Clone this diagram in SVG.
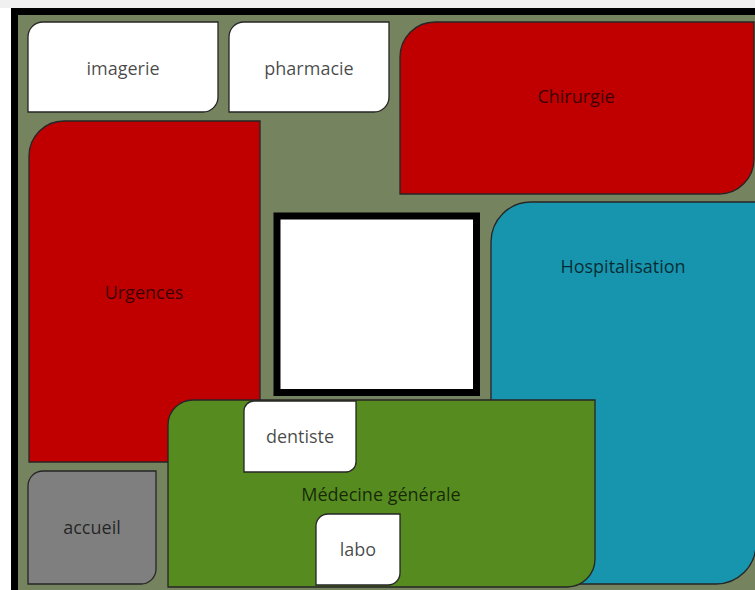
<svg xmlns="http://www.w3.org/2000/svg" width="755" height="590" viewBox="0 0 755 590">
<style>
.box{stroke:#262626;stroke-width:1.3}
.w{fill:#ffffff}
.red{fill:#c00000}
.lbl{font-family:"Open Sans","Liberation Sans",sans-serif;font-size:18px;text-anchor:middle;dominant-baseline:central;fill:#000;fill-opacity:0.72}
</style>
<rect x="0" y="0" width="755" height="590" fill="#ffffff"/>
<rect x="0" y="0" width="755" height="8" fill="#f0f0f0"/>
<rect x="11" y="8" width="744" height="582" fill="#000000"/>
<rect x="18" y="15" width="737" height="575" fill="#76835f"/>
<g id="imagerie">
<path class="box w" d="M28,112 L28,37 A15,15 0 0 1 43,22 L218,22 L218,97 A15,15 0 0 1 203,112 Z"/>
<text class="lbl" x="123" y="68">imagerie</text>
</g>
<g id="pharmacie">
<path class="box w" d="M229,112 L229,37 A15,15 0 0 1 244,22 L389,22 L389,97 A15,15 0 0 1 374,112 Z"/>
<text class="lbl" x="309" y="68">pharmacie</text>
</g>
<g id="chirurgie">
<path class="box red" d="M400,194 L400,57 A35,35 0 0 1 435,22 L754,22 L754,159 A35,35 0 0 1 719,194 Z"/>
<text class="lbl" x="576" y="96">Chirurgie</text>
</g>
<g id="urgences">
<path class="box red" d="M29,462 L29,156 A35,35 0 0 1 64,121 L260,121 L260,462 Z"/>
<text class="lbl" x="144" y="292">Urgences</text>
</g>
<g id="hospitalisation">
<path class="box" fill="#1795ae" d="M491,584 L491,242 A40,40 0 0 1 531,202 L756,202 L756,544 A40,40 0 0 1 716,584 Z"/>
<text class="lbl" x="623" y="266">Hospitalisation</text>
</g>
<g id="centre">
<rect x="277" y="216" width="199.5" height="176.5" fill="#ffffff" stroke="#000000" stroke-width="7"/>
</g>
<g id="medecine-generale">
<path class="box" fill="#558b1f" d="M168,587 L168,425 A25,25 0 0 1 193,400 L595,400 L595,559 A28,28 0 0 1 567,587 Z"/>
<text class="lbl" x="381" y="494">Médecine générale</text>
</g>
<g id="dentiste">
<path class="box w" d="M244,472 L244,411 A10,10 0 0 1 254,401 L356,401 L356,462 A10,10 0 0 1 346,472 Z"/>
<text class="lbl" x="300" y="436">dentiste</text>
</g>
<g id="labo">
<path class="box w" d="M316,585 L316,526 A12,12 0 0 1 328,514 L400,514 L400,573 A12,12 0 0 1 388,585 Z"/>
<text class="lbl" x="358" y="549">labo</text>
</g>
<g id="accueil">
<path class="box" fill="#7f7f7f" d="M28,584 L28,486 A15,15 0 0 1 43,471 L156,471 L156,569 A15,15 0 0 1 141,584 Z"/>
<text class="lbl" x="92" y="527">accueil</text>
</g>
<g id="connectors"></g>
</svg>
